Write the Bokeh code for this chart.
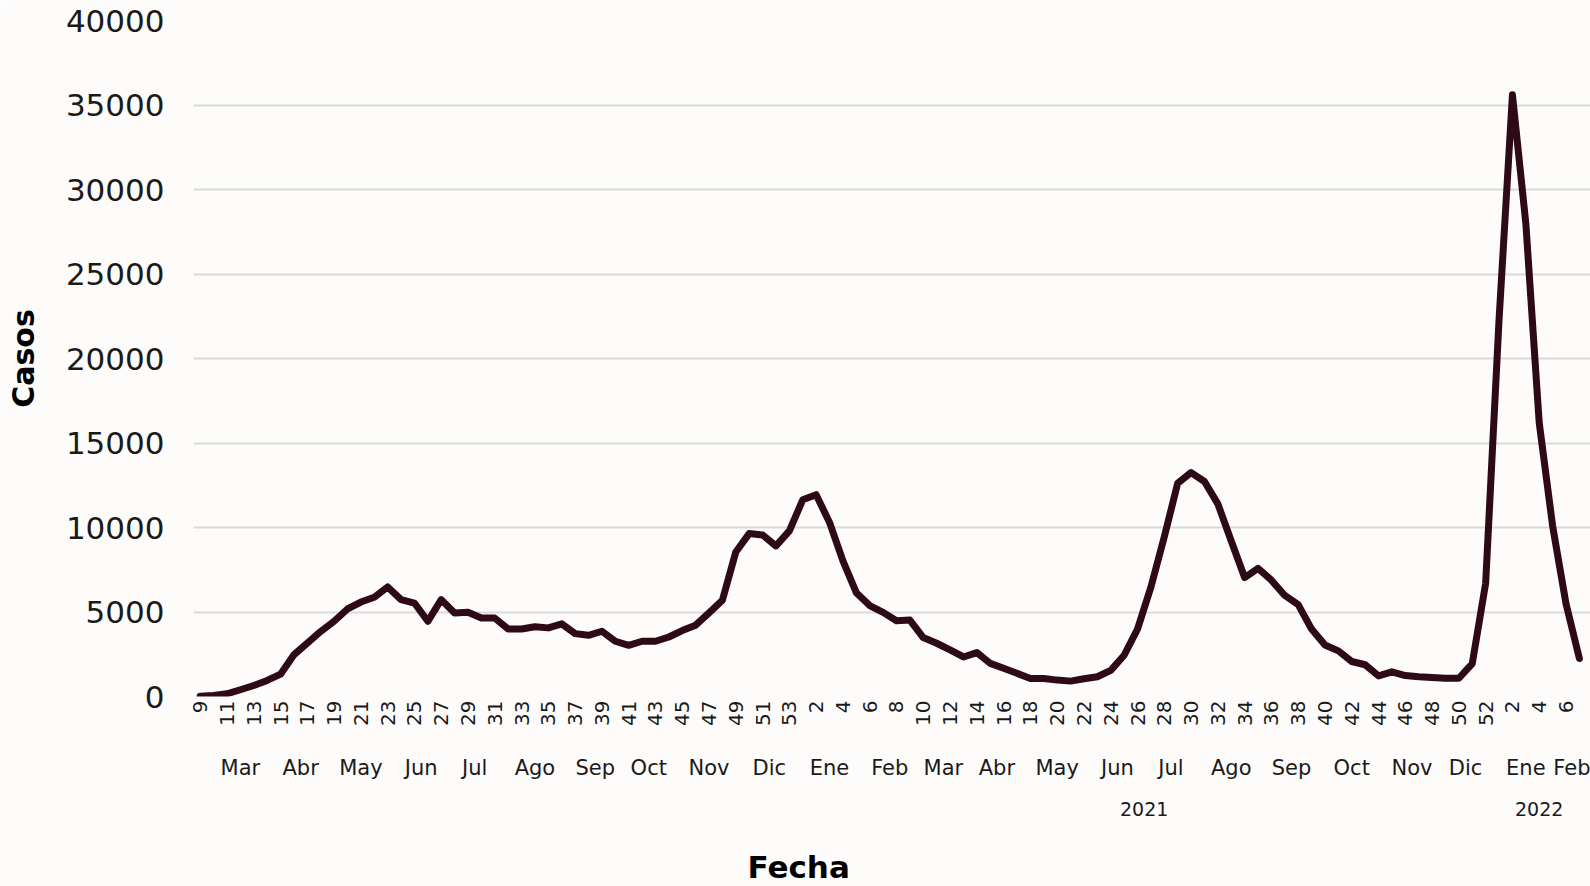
import math
from bokeh.plotting import figure
from bokeh.models import Range1d, FixedTicker, LinearAxis, ColumnDataSource, Title
from bokeh.embed import file_html
from bokeh.resources import INLINE

# ---------------- data ----------------
weeks_2020 = list(range(9, 54))
weeks_2021 = list(range(1, 53))
weeks_2022 = list(range(1, 8))

cases_2020 = [20, 60, 160, 400, 650, 950, 1320, 2470, 3160, 3850,
              4450, 5180, 5590, 5870, 6480, 5730, 5530, 4450, 5730, 4940,
              4980, 4640, 4640, 3990, 3990, 4130, 4060, 4300, 3720, 3620,
              3860, 3270, 3030, 3270, 3270, 3520, 3900, 4220, 4950, 5700,
              8550, 9640, 9560, 8910, 9800]
cases_2021 = [11640, 11940, 10300, 8020, 6140, 5380, 4980, 4480, 4520, 3490,
              3150, 2760, 2340, 2600, 1960, 1670, 1370, 1070, 1070, 970,
              910, 1050, 1170, 1550, 2440, 3990, 6470, 9440, 12620, 13250,
              12720, 11400, 9200, 7040, 7580, 6880, 5980, 5440, 3990, 3050,
              2700, 2070, 1880, 1220, 1460, 1240, 1170, 1130, 1080, 1080,
              1950, 6700]
cases_2022 = [22300, 35600, 28000, 16200, 10100, 5500, 2250]

# month of each epidemiological week (label, number of weeks)
months_2020 = ["Feb", "Mar", "Abr", "May", "Jun", "Jul", "Ago", "Sep", "Oct", "Nov", "Dic"]
month_weeks_2020 = [1, 5, 4, 5, 4, 4, 5, 4, 4, 5, 4]
months_2021 = ["Ene", "Feb", "Mar", "Abr", "May", "Jun", "Jul", "Ago", "Sep", "Oct", "Nov", "Dic"]
month_weeks_2021 = [5, 4, 4, 4, 5, 4, 4, 5, 4, 5, 4, 4]
months_2022 = ["Ene", "Feb"]
month_weeks_2022 = [5, 2]

year_labels = ["", "2021", "2022"]   # 2020 shown without label in the original

y_ticks = [0, 5000, 10000, 15000, 20000, 25000, 30000, 35000, 40000]

# ---------------- build ----------------
weeks = weeks_2020 + weeks_2021 + weeks_2022
cases = cases_2020 + cases_2021 + cases_2022
idx = list(range(len(weeks)))
src = ColumnDataSource(dict(x=idx, y=cases))

FONT = "DejaVu Sans"
TXT = "#1a1a1a"
LINE = "#2e0916"
BG = "#fdfcfa"

p = figure(width=1590, height=886, output_backend="svg", toolbar_location=None,
           x_range=Range1d(-0.5, len(idx) - 0.17), y_range=Range1d(0, 40000),
           x_axis_type=None, min_border_left=193, min_border_right=0,
           min_border_top=20, min_border_bottom=190,
           background_fill_color=BG, border_fill_color=BG)
p.outline_line_color = None

p.line("x", "y", source=src, line_color=LINE, line_width=7,
       line_join="round", line_cap="round")

# y axis
p.yaxis.ticker = FixedTicker(ticks=y_ticks)
p.ygrid.ticker = FixedTicker(ticks=y_ticks)
p.ygrid.grid_line_color = "#d9d9d9"
p.ygrid.grid_line_width = 2
p.yaxis.axis_line_color = None
p.yaxis.major_tick_line_color = None
p.yaxis.minor_tick_line_color = None
p.yaxis.major_tick_out = 0
p.yaxis.major_label_text_font = FONT
p.yaxis.major_label_text_font_size = "31px"
p.yaxis.major_label_text_color = TXT
p.yaxis.major_label_standoff = 29
p.yaxis.axis_label = "Casos"
p.yaxis.axis_label_text_font = FONT
p.yaxis.axis_label_text_font_style = "bold"
p.yaxis.axis_label_text_font_size = "30px"
p.yaxis.axis_label_text_color = "#000000"
p.yaxis.axis_label_standoff = 22


def make_axis(ticks, labels, size, standoff, orient=None):
    ax = LinearAxis(ticker=FixedTicker(ticks=ticks, minor_ticks=[]),
                    major_label_overrides={t: l for t, l in zip(ticks, labels)})
    ax.axis_line_color = None
    ax.major_tick_line_color = None
    ax.minor_tick_line_color = None
    ax.major_tick_out = 0
    ax.major_tick_in = 0
    ax.minor_tick_out = 0
    ax.major_label_text_font = FONT
    ax.major_label_text_font_size = size
    ax.major_label_text_color = TXT
    ax.major_label_standoff = standoff
    if orient is not None:
        ax.major_label_orientation = orient
    return ax


# week level: every second week labelled
wk_ticks = idx[::2]
wk_labels = [str(weeks[i]) for i in wk_ticks]
week_axis = make_axis(wk_ticks, wk_labels, "20px", 4, math.pi / 2)

# month level: centred on each month's weeks (single-week groups have no room)
m_ticks, m_labels = [], []
start = 0
for names, counts in [(months_2020, month_weeks_2020), (months_2021, month_weeks_2021),
                      (months_2022, month_weeks_2022)]:
    for n, c in zip(names, counts):
        if c > 1:
            m_ticks.append(start + (c - 1) / 2)
            m_labels.append(n)
        start += c
month_axis = make_axis(m_ticks, m_labels, "21px", 27)

# year level
y_centers, start = [], 0
for wl in [weeks_2020, weeks_2021, weeks_2022]:
    y_centers.append(start + (len(wl) - 1) / 2)
    start += len(wl)
yr_ticks = [t for t, l in zip(y_centers, year_labels) if l]
yr_labels = [l for l in year_labels if l]
year_axis = make_axis(yr_ticks, yr_labels, "19px", 19)
# blank spacer label: pushes the x title further down
year_axis.axis_label = " "
year_axis.axis_label_text_font_size = "10px"
year_axis.axis_label_standoff = 12

p.add_layout(week_axis, "below")
p.add_layout(month_axis, "below")
p.add_layout(year_axis, "below")

# x-axis title, centred on the whole chart (as in the original)
fecha = Title(text="Fecha", align="left", offset=554, standoff=4,
              vertical_align="bottom",
              text_font=FONT, text_font_style="bold", text_font_size="31px",
              text_color="#000000")
p.add_layout(fecha, "below")

open("out.html", "w").write(file_html(p, INLINE))
